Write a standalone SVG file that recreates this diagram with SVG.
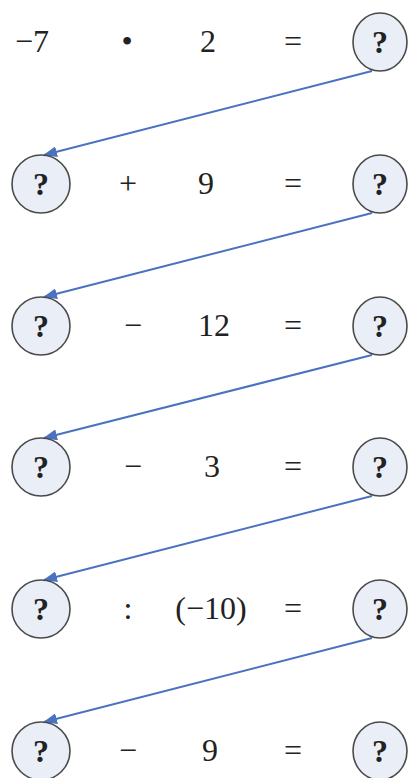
<svg xmlns="http://www.w3.org/2000/svg" width="409" height="778" viewBox="0 0 409 778">
<style>
.c{fill:#e9eef7;stroke:#4a4a4a;stroke-width:1.6}
.q{font-family:'Liberation Serif','Times New Roman',Times,serif;font-weight:bold;font-size:32px;fill:#222;text-anchor:middle}
.t{font-family:'Liberation Serif','Times New Roman',Times,serif;font-size:32px;fill:#222;text-anchor:middle}
.a{stroke:#4a72c0;stroke-width:2;fill:none;marker-end:url(#ah)}
</style>
<defs>
<marker id="ah" markerWidth="14" markerHeight="11" refX="13" refY="5.5" orient="auto" markerUnits="userSpaceOnUse">
<path d="M0,0 L14,5.5 L0,11 Z" fill="#4a72c0"/>
</marker>
</defs>
<rect width="409" height="778" fill="#fff"/>
<g id="connectors">
<line class="a" x1="372" y1="71" x2="44" y2="155"/>
<line class="a" x1="372" y1="213" x2="44" y2="297"/>
<line class="a" x1="372" y1="355" x2="44" y2="438"/>
<line class="a" x1="372" y1="496" x2="44" y2="580"/>
<line class="a" x1="372" y1="638" x2="44" y2="722"/>
</g>
<g id="row1">
<text class="t" x="32" y="52">−7</text>
<text class="t" x="127" y="52">•</text>
<text class="t" x="208" y="52">2</text>
<text class="t" x="293" y="52">=</text>
<g id="r1"><ellipse class="c" cx="380" cy="42" rx="27" ry="29"/><text class="q" x="380" y="53">?</text></g>
</g>
<g id="row2">
<g id="l2"><ellipse class="c" cx="41" cy="184" rx="29" ry="29"/><text class="q" x="41" y="195">?</text></g>
<text class="t" x="128" y="194">+</text>
<text class="t" x="206" y="194">9</text>
<text class="t" x="293" y="194">=</text>
<g id="r2"><ellipse class="c" cx="380" cy="184" rx="27" ry="29"/><text class="q" x="380" y="195">?</text></g>
</g>
<g id="row3">
<g id="l3"><ellipse class="c" cx="41" cy="326" rx="29" ry="29"/><text class="q" x="41" y="337">?</text></g>
<text class="t" x="133" y="336">−</text>
<text class="t" x="214" y="336">12</text>
<text class="t" x="293" y="336">=</text>
<g id="r3"><ellipse class="c" cx="380" cy="326" rx="27" ry="29"/><text class="q" x="380" y="337">?</text></g>
</g>
<g id="row4">
<g id="l4"><ellipse class="c" cx="41" cy="467" rx="29" ry="29"/><text class="q" x="41" y="478">?</text></g>
<text class="t" x="133" y="477">−</text>
<text class="t" x="212" y="477">3</text>
<text class="t" x="293" y="477">=</text>
<g id="r4"><ellipse class="c" cx="380" cy="467" rx="27" ry="29"/><text class="q" x="380" y="478">?</text></g>
</g>
<g id="row5">
<g id="l5"><ellipse class="c" cx="41" cy="609" rx="29" ry="29"/><text class="q" x="41" y="620">?</text></g>
<text class="t" x="128" y="619">:</text>
<text class="t" x="211" y="619">(−10)</text>
<text class="t" x="293" y="619">=</text>
<g id="r5"><ellipse class="c" cx="380" cy="609" rx="27" ry="29"/><text class="q" x="380" y="620">?</text></g>
</g>
<g id="row6">
<g id="l6"><ellipse class="c" cx="41" cy="751" rx="29" ry="29"/><text class="q" x="41" y="762">?</text></g>
<text class="t" x="128" y="761">−</text>
<text class="t" x="210" y="761">9</text>
<text class="t" x="293" y="761">=</text>
<g id="r6"><ellipse class="c" cx="380" cy="751" rx="27" ry="29"/><text class="q" x="380" y="762">?</text></g>
</g>
</svg>
